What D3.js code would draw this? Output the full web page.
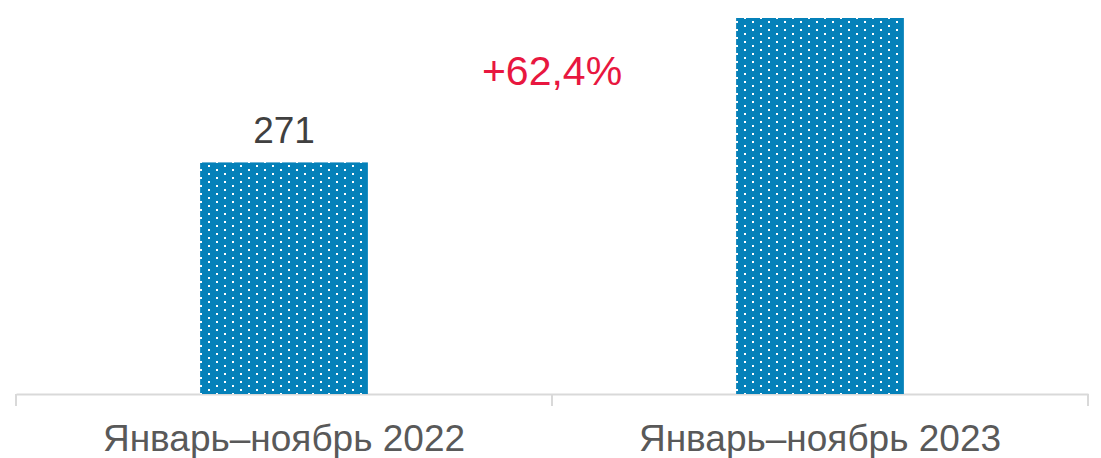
<!DOCTYPE html>
<html>
<head>
<meta charset="utf-8">
<script src="https://cdn.jsdelivr.net/npm/d3@7"></script>
<style>
  body { margin: 0; background: #fff; }
  svg { display: block; font-family: "Liberation Sans", Arial, sans-serif; }
</style>
</head>
<body>
<div id="chart"></div>
<script>
// data
const categories = ["Январь–ноябрь 2022", "Январь–ноябрь 2023"];
const values = [271, 440];
const valueLabels = ["271", "440"];
const changeLabel = "+62,4%";

const width = 1101, height = 458;

const svg = d3.select("#chart")
  .append("svg")
    .attr("width", width)
    .attr("height", height);

// dotted fill like the excel pattern
const defs = svg.append("defs");
const pat = defs.append("pattern")
    .attr("id", "dots")
    .attr("patternUnits", "userSpaceOnUse")
    .attr("width", 16)
    .attr("height", 8);
pat.append("rect").attr("width", 16).attr("height", 8).attr("fill", "#0581b9");
pat.append("rect").attr("x", 8).attr("y", 1).attr("width", 2).attr("height", 2).attr("fill", "#fff");
pat.append("rect").attr("x", 0).attr("y", 5).attr("width", 2).attr("height", 2).attr("fill", "#fff");

// scales
const x = d3.scaleBand()
  .domain(categories)
  .range([16, 1088])
  .padding(0);

const y = d3.scaleLinear()
  .domain([0, 440])
  .range([394, 18]);

const barW = x.bandwidth() * 0.313;

// axis line + ticks at band edges
const axis = svg.append("g")
  .attr("transform", `translate(0, ${y(0)})`)
  .call(d3.axisBottom(x).tickSize(0).tickPadding(31));
axis.select(".domain").attr("stroke", "#d9d9d9").attr("stroke-width", 2);
axis.selectAll("text")
  .attr("font-size", 37)
  .attr("fill", "#595959")
  .attr("font-family", "Liberation Sans, Arial, sans-serif");

const edges = categories.map(d => x(d)).concat([x(categories[categories.length - 1]) + x.bandwidth()]);
svg.append("g")
  .selectAll("line")
  .data(edges)
  .join("line")
    .attr("x1", d => d).attr("x2", d => d)
    .attr("y1", y(0)).attr("y2", y(0) + 12)
    .attr("stroke", "#d9d9d9")
    .attr("stroke-width", 2);

// bars
svg.selectAll(".bar")
  .data(values)
  .join("rect")
    .attr("class", "bar")
    .attr("x", (d, i) => x(categories[i]) + (x.bandwidth() - barW) / 2)
    .attr("y", d => y(d))
    .attr("width", barW)
    .attr("height", d => y(0) - y(d))
    .attr("fill", "url(#dots)");

// value labels (the 2023 one sits above the visible area)
svg.selectAll(".val")
  .data(values.map((v, i) => ({v, i})).filter(d => y(d.v) - 19 > 40))
  .join("text")
    .attr("class", "val")
    .attr("x", d => x(categories[d.i]) + x.bandwidth() / 2)
    .attr("y", d => y(d.v) - 19)
    .attr("text-anchor", "middle")
    .attr("font-size", 37)
    .attr("fill", "#404040")
    .text(d => valueLabels[d.i]);

// change label
svg.append("text")
  .attr("x", x(categories[1]))
  .attr("y", 85)
  .attr("text-anchor", "middle")
  .attr("font-size", 41)
  .attr("fill", "#e8173f")
  .text(changeLabel);
</script>
</body>
</html>
